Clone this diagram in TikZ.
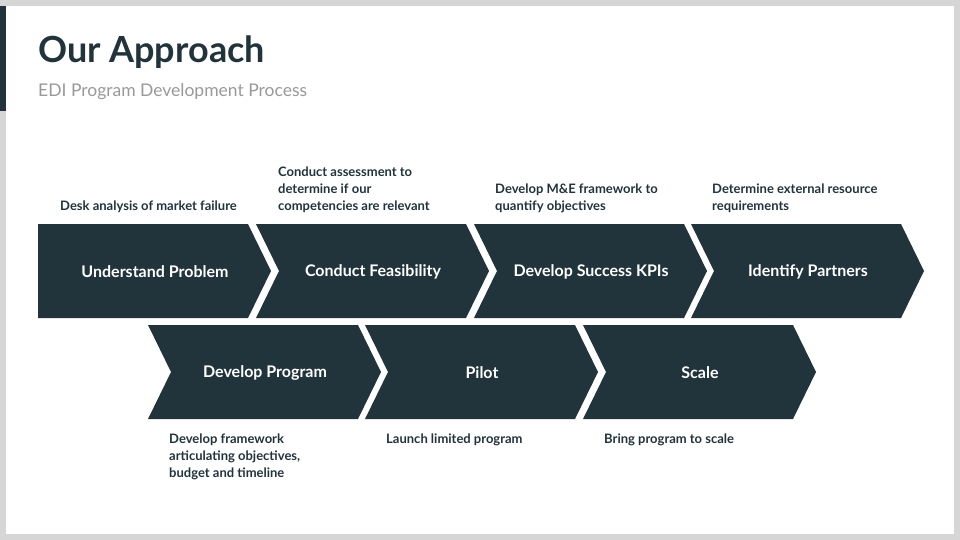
\documentclass[tikz,border=0pt]{standalone}
\usepackage{xcolor}
\usepackage{fontspec}
\setmainfont{Lato}
\usepackage{tikz}
\usetikzlibrary{positioning}

\definecolor{slate}{HTML}{21343C}
\definecolor{framegray}{HTML}{D6D6D6}
\definecolor{subgray}{HTML}{999999}

\tikzset{
  chevlabel/.style={text=white,font=\fontsize{16}{18}\selectfont\bfseries},
  desc/.style={text=slate,inner sep=0pt,align=left,font=\fontsize{13}{17}\selectfont\bfseries}
}

\begin{document}
\begin{tikzpicture}[x=1pt,y=-1pt]
\useasboundingbox (0,0) rectangle (960,540);
\fill[framegray] (0,0) rectangle (960,540);
\fill[white] (6,6) rectangle (954,534);
\fill[slate] (0,6) rectangle (6,111);
\node[anchor=base west,inner sep=0pt,text=slate,font=\fontsize{36}{40}\selectfont\bfseries] (title) at (38,63) {Our Approach};
\node[anchor=base west,inner sep=0pt,text=subgray,font=\fontsize{17.5}{20}\selectfont] (subtitle) at (38,97) {EDI Program Development Process};
% top row
\foreach \L/\n/\nm/\txt in {38/0/P1/Understand Problem,256/23/P2/Conduct Feasibility,474/23/P3/Develop Success KPIs,691/23/P4/Identify Partners}{
  \fill[slate] (\L,224) -- ++(210,0) -- ++(23,47) -- ++(-23,47) -- ++(-210,0) -- ++(\n,-47) -- cycle;
  \node[chevlabel] (\nm) at (\L+117,272) {\txt};
}
% bottom row
\foreach \L/\nm/\txt in {148/P5/Develop Program,365/P6/Pilot,583/P7/Scale}{
  \fill[slate] (\L,325) -- ++(210,0) -- ++(23,47) -- ++(-23,47) -- ++(-210,0) -- ++(23,-47) -- cycle;
  \node[chevlabel] (\nm) at (\L+117,373) {\txt};
}
\node[desc,anchor=south west] (D1) at (60,213) {Desk analysis of market failure};
\node[desc,anchor=south west] (D2) at (278,213) {Conduct assessment to\\determine if our\\competencies are relevant};
\node[desc,anchor=south west] (D3) at (495,213) {Develop M\&E framework to\\quantify objectives};
\node[desc,anchor=south west] (D4) at (712,213) {Determine external resource\\requirements};
\node[desc,anchor=north west] (D5) at (169,434) {Develop framework\\articulating objectives,\\budget and timeline};
\node[desc,anchor=north west] (D6) at (386,434) {Launch limited program};
\node[desc,anchor=north west] (D7) at (604,434) {Bring program to scale};
\end{tikzpicture}
\end{document}
